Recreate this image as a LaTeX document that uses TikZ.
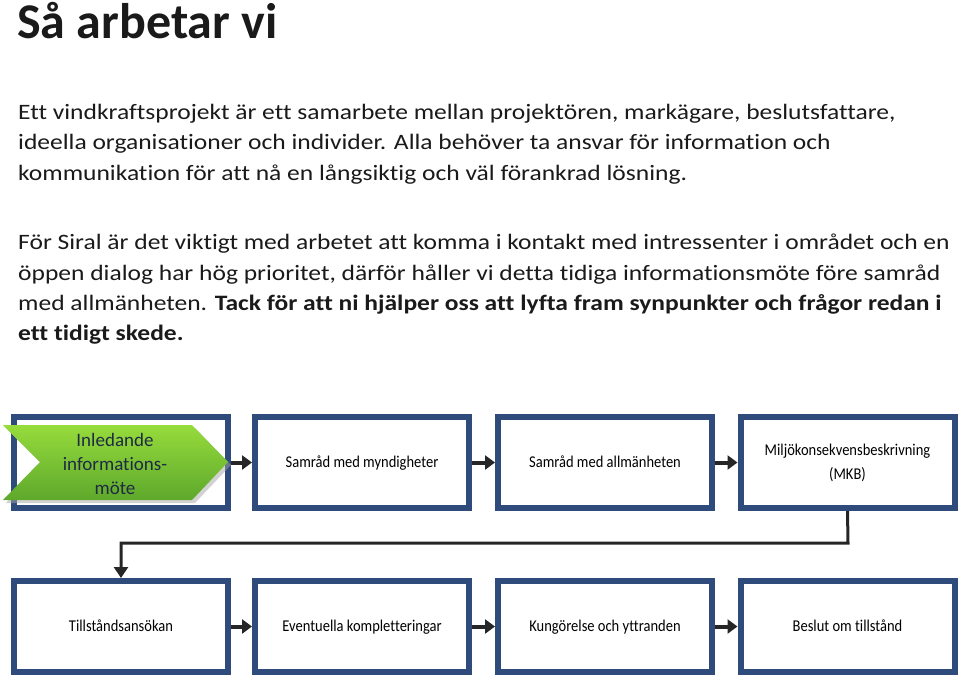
\documentclass[tikz,border=0pt]{standalone}
\usepackage{fontspec}
\setmainfont{Carlito}[Ligatures=NoCommon]
\newfontfamily\parafont{Carlito}[Ligatures=NoCommon,FakeStretch=1.16]
\newfontfamily\boxfont{Carlito}[Ligatures=NoCommon,FakeStretch=0.88]
\usetikzlibrary{arrows.meta,shadows}
\definecolor{boxblue}{HTML}{2F4B7C}
\definecolor{txt}{HTML}{1A1A1A}
\definecolor{gtop}{HTML}{96DC3C}
\definecolor{gbot}{HTML}{5EA82C}
\definecolor{navy}{HTML}{1F2A44}
\tikzset{
  stepbox/.style={draw=boxblue,line width=6pt,fill=white,minimum width=214pt,minimum height=91pt,inner sep=0pt,align=center,font=\boxfont\fontsize{16.5}{24}\selectfont,text=black},
  para/.style={anchor=base west,inner sep=0pt,text=txt,font=\parafont\fontsize{22}{26}\selectfont},
  flow/.style={line width=4pt,draw=black!85,-{Triangle[length=10pt,width=14pt]}},
  back/.style={line width=3pt,draw=black!85,-{Triangle[length=11pt,width=14pt]}},
}
\begin{document}
\begin{tikzpicture}[x=1pt,y=-1pt]
\useasboundingbox (0,0) rectangle (960,677);
\node[anchor=base west,inner sep=0pt,text=txt,font=\fontsize{50}{60}\selectfont\bfseries] (title) at (17,39) {Så arbetar vi};
\node[para] (p1) at (18,119) {Ett vindkraftsprojekt är ett samarbete mellan projektören, markägare, beslutsfattare,};
\node[para] (p2) at (18,149) {ideella organisationer och individer. Alla behöver ta ansvar för information och};
\node[para] (p3) at (18,180) {kommunikation för att nå en långsiktig och väl förankrad lösning.};
\node[para] (q1) at (18,249) {För Siral är det viktigt med arbetet att komma i kontakt med intressenter i området och en};
\node[para] (q2) at (18,280) {öppen dialog har hög prioritet, därför håller vi detta tidiga informationsmöte före samråd};
\node[para] (q3) at (18,310) {med allmänheten. \textbf{Tack för att ni hjälper oss att lyfta fram synpunkter och frågor redan i}};
\node[para] (q4) at (18,340) {\textbf{ett tidigt skede.}};

\node[stepbox] (b1) at (121,462.5) {};
\node[stepbox] (b2) at (362,462.5) {\strut Samråd med myndigheter};
\node[stepbox] (b3) at (605,462.5) {\strut Samråd med allmänheten};
\node[stepbox] (b4) at (847.5,462.5) {\strut Miljökonsekvensbeskrivning\\\strut(MKB)};
\node[stepbox] (b5) at (121,626.5) {\strut Tillståndsansökan};
\node[stepbox] (b6) at (362,626.5) {\strut Eventuella kompletteringar};
\node[stepbox] (b7) at (605,626.5) {\strut Kungörelse och yttranden};
\node[stepbox] (b8) at (847.5,626.5) {\strut Beslut om tillstånd};

\fill[black!35,opacity=0.5] (6,428) -- (195,428) -- (231,465) -- (195,503) -- (6,503) -- (43,465) -- cycle;
\shade[top color=gtop,bottom color=gbot] (3,425) -- (192,425) -- (228,462) -- (192,500) -- (3,500) -- (40,462) -- cycle;
\node[align=center,text=navy,font=\fontsize{19}{24}\selectfont,inner sep=0pt] (g) at (115,464) {Inledande\\informations-\\möte};

\draw[flow] (b1.east) -- (b2.west);
\draw[flow] (b2.east) -- (b3.west);
\draw[flow] (b3.east) -- (b4.west);
\draw[flow] (b5.east) -- (b6.west);
\draw[flow] (b6.east) -- (b7.west);
\draw[flow] (b7.east) -- (b8.west);
\coordinate (c1) at (848,543);
\coordinate (c2) at (121,543);
\draw[back] (b4.south) -- (c1) -- (c2) -- (b5.north);
\end{tikzpicture}
\end{document}
